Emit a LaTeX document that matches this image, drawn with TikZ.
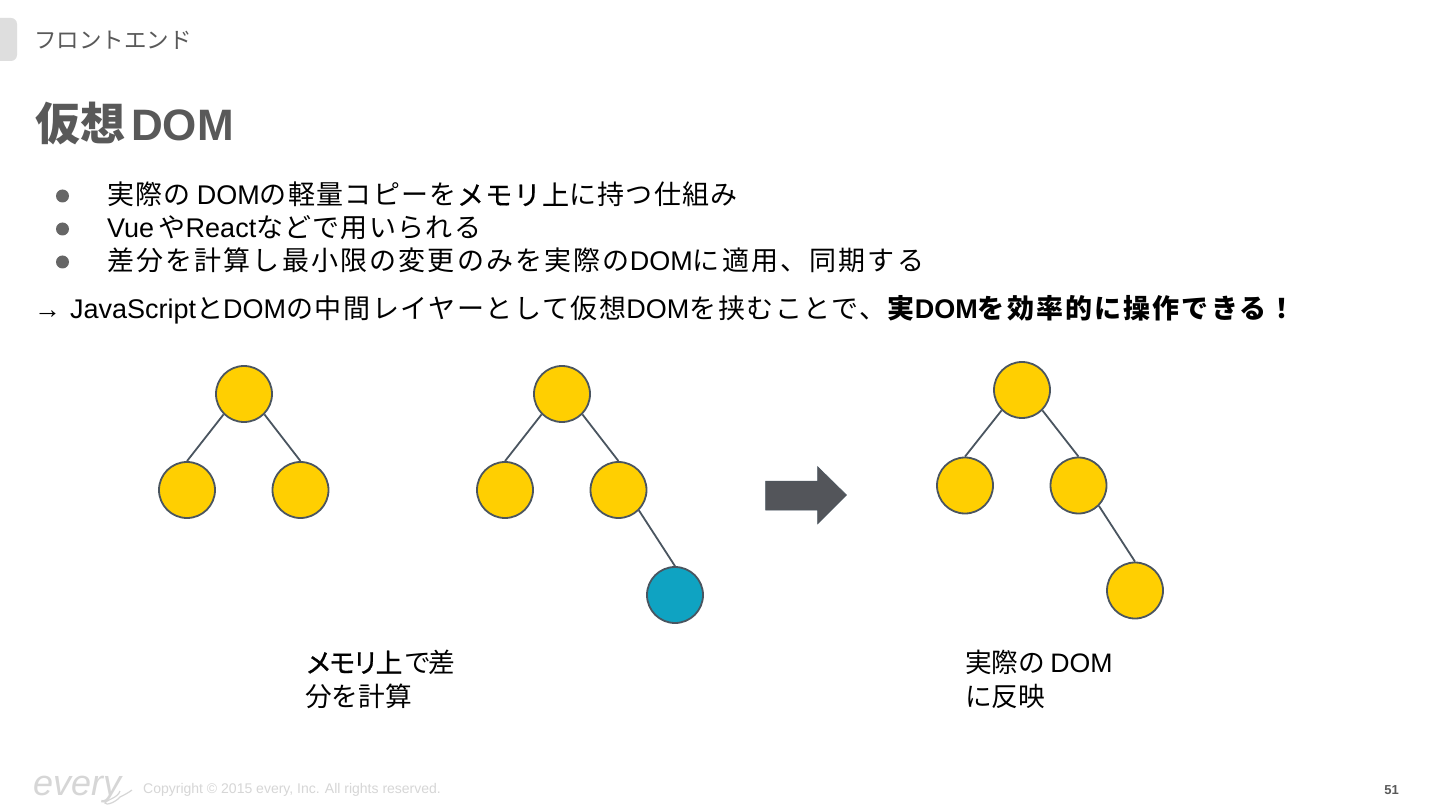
\documentclass[tikz,border=0pt]{standalone}
\usepackage{fontspec}
\setmainfont{Liberation Sans}
\newfontfamily\cjk{Noto Sans CJK JP}
\newfontfamily\cjkA[LetterSpace=5]{Noto Sans CJK JP}
\newfontfamily\cjkB[LetterSpace=8]{Noto Sans CJK JP}
\newfontfamily\cjkC[LetterSpace=6]{Noto Sans CJK JP}
\newfontfamily\cjkD[LetterSpace=8]{Noto Sans CJK JP}
\newfontfamily\cjkM[LetterSpace=5,FakeBold=0.5]{Noto Sans CJK JP}
\newfontfamily\cjkN[LetterSpace=-12,FakeBold=1]{Noto Sans CJK JP}
\newcommand{\J}[1]{{\cjk #1}}
\newcommand{\JA}[1]{{\cjkA #1}}
\newcommand{\JB}[1]{{\cjkB #1}}
\newcommand{\JC}[1]{{\cjkC #1}}
\newcommand{\JD}[1]{{\cjkD #1}}
\definecolor{ink}{HTML}{595959}
\definecolor{gold}{HTML}{FFCF01}
\definecolor{teal}{HTML}{0FA3C2}
\definecolor{edgec}{HTML}{4A5560}
\definecolor{arrowc}{HTML}{53555A}
\tikzset{
  x=1pt,y=-1pt,
  treenode/.style={circle,draw=edgec,line width=1.8pt,minimum size=56pt,inner sep=0pt,fill=gold},
  newnode/.style={treenode,fill=teal},
  link/.style={draw=edgec,line width=1.8pt},
  body/.style={anchor=base west,inner sep=0pt,font=\fontsize{27}{30}\selectfont,text=black},
  bullet/.style={circle,fill=black!60,inner sep=0pt,minimum size=13pt},
  note/.style={anchor=north west,inner sep=0pt,align=left,font=\fontsize{26.7}{34}\selectfont,text=black},
}
\begin{document}
\begin{tikzpicture}
\useasboundingbox (0,0) rectangle (1440,810);
\fill[fill=white] (0,0) rectangle (1440,810);
% tab
\fill[fill=black!13,rounded corners=6pt] (-10,18) rectangle (17,61);
\node[anchor=base west,inner sep=0pt,text=ink,font=\fontsize{22.5}{28}\selectfont] (section) at (34,49) {\J{フロントエンド}};
\node[anchor=base west,inner sep=0pt,text=ink,font=\fontsize{44}{50}\selectfont\bfseries] (title) at (35,141) {{\fontsize{45}{50}\selectfont\J{仮想}}\hspace{6pt}DOM};
% bullets
\node[bullet] (b1) at (62.5,196) {};
\node[bullet] (b2) at (62.5,229) {};
\node[bullet] (b3) at (62.5,262) {};
\node[body] (l1) at (107,205) {\JA{実際の}\hspace{6pt}DOM\JA{の軽量コピーを}{\cjkM メモリ上}\JA{に持つ仕組み}};
\node[body] (l2) at (107,238) {Vue\,\JA{や}React\JA{などで用いられる}};
\node[body] (l3) at (107,271) {\JB{差分を計算し最小限の変更のみを実際の}DOM\JB{に適用、同期する}};
\node[body] (l4) at (34,319) {→\hspace{9pt}JavaScript\JC{と}DOM\JC{の中間レイヤーとして仮想}DOM\JC{を挟むことで、}\textbf{\JD{実}DOM\JD{を効率的に操作できる！}}};
% tree A
\node[treenode] (a1) at (244,394) {};
\node[treenode] (a2) at (187,490) {};
\node[treenode] (a3) at (300.5,490) {};
\draw[link] (a1.225) -- (a2.north);
\draw[link] (a1.-45) -- (a3.north);
% tree B
\node[treenode] (b1n) at (562,394) {};
\node[treenode] (b2n) at (505,490) {};
\node[treenode] (b3n) at (618.5,490) {};
\node[newnode] (b4n) at (675,595) {};
\draw[link] (b1n.225) -- (b2n.north);
\draw[link] (b1n.-45) -- (b3n.north);
\draw[link] (b3n.-45) -- (b4n.north);
% arrow
\fill[fill=arrowc,draw=edgec,line width=.5pt] (765.5,481) -- (817.5,481) -- (817.5,466.5) -- (846.5,495) -- (817.5,524) -- (817.5,510) -- (765.5,510) -- cycle;
% tree C
\node[treenode] (c1) at (1022,390) {};
\node[treenode] (c2) at (965,485.5) {};
\node[treenode] (c3) at (1078.5,485.5) {};
\node[treenode] (c4) at (1135,590.5) {};
\draw[link] (c1.225) -- (c2.north);
\draw[link] (c1.-45) -- (c3.north);
\draw[link] (c3.-45) -- (c4.north);
% notes
\node[note] (n1) at (305,650) {{\cjkN メモリ上}\hspace{2pt}\J{で\kern-3pt 差}\\\J{分を計算}};
\node[note] (n2) at (965,650) {\J{実際の}\hspace{5pt}DOM\\\J{に反映}};
% footer
\node[anchor=base west,inner sep=0pt,text=black!16,font=\fontsize{36}{36}\selectfont\itshape] (logo) at (33,795) {every};
\draw[black!16,line width=1.2pt] (120,791) .. controls (118,798) and (106,800) .. (105,803) .. controls (106,806) and (116,802) .. (120,797) .. controls (124,795) and (128,793) .. (132,790);
\node[anchor=base west,inner sep=0pt,text=black!16,font=\fontsize{14}{16}\selectfont] (copy) at (143,793) {Copyright © 2015 every, Inc. All rights reserved.};
\node[anchor=base east,inner sep=0pt,text=ink,font=\fontsize{13}{16}\selectfont\bfseries] (page) at (1399,794) {51};
\end{tikzpicture}
\end{document}
